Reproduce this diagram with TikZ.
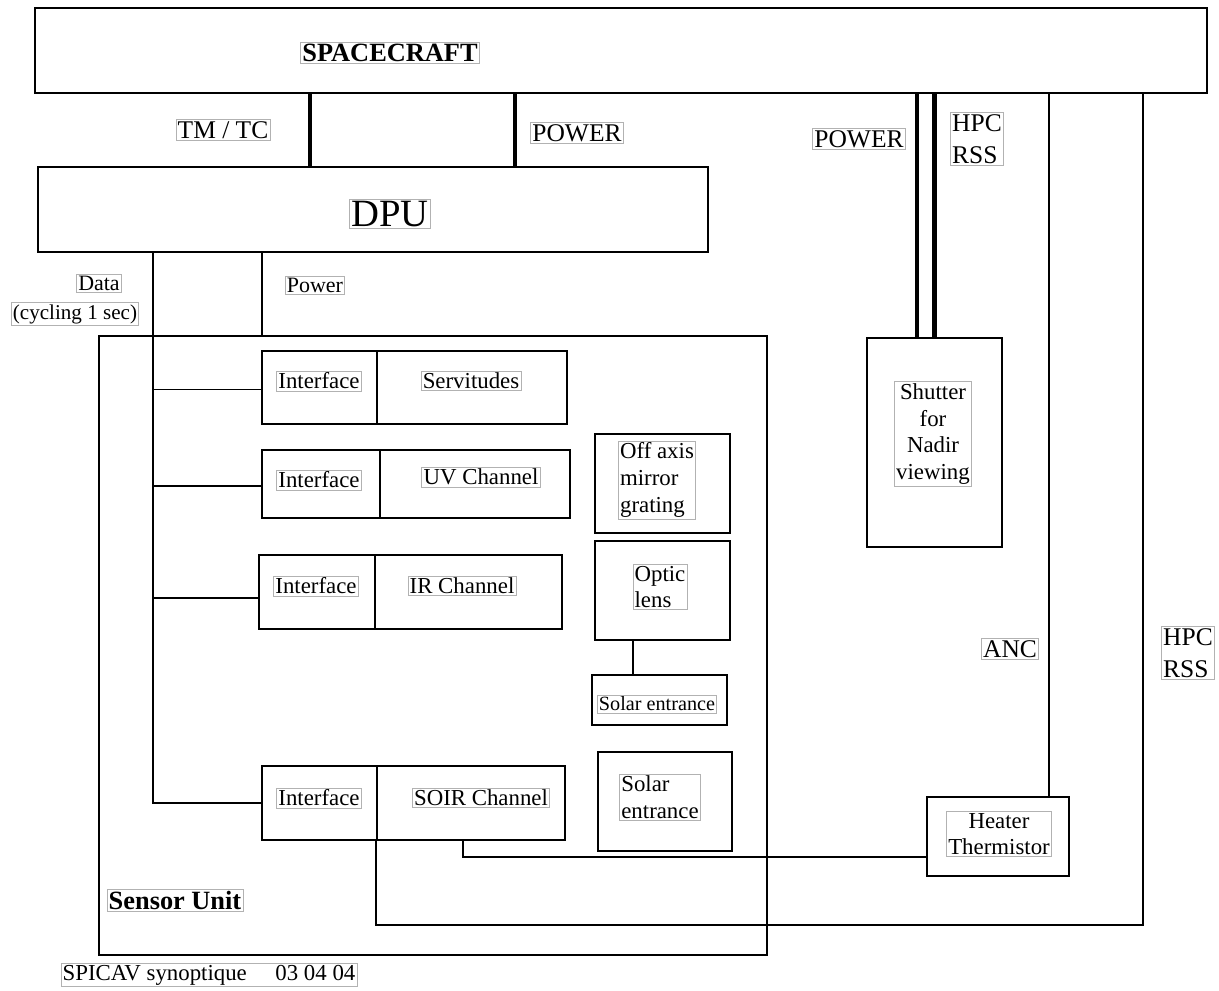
\documentclass[tikz,border=0pt]{standalone}
\usepackage{fontspec}
\setmainfont{Liberation Serif}
\usetikzlibrary{positioning}

\begin{document}
\begin{tikzpicture}[x=0.02cm, y=-0.02cm,
    box/.style={draw, line width=1.1pt, inner sep=0pt},
    tag/.style={draw=black!30, line width=0.4pt, inner sep=1pt, align=center, font=\fontsize{13}{15.2}\selectfont},
    big/.style={tag, font=\fontsize{14.5}{18.5}\selectfont},
    wire/.style={line width=1.1pt},
    bus/.style={line width=2.4pt}]
    \useasboundingbox (0,0) rectangle (1219,990);

    % upper blocks
    \node[box, minimum width=23.44cm, minimum height=1.7cm] (sc) at (621,50.5) {};
    \node[box, minimum width=13.4cm, minimum height=1.7cm] (dpu) at (373,209.5) {};
    \node[tag, font=\bfseries\fontsize{15}{18}\selectfont] (scname) at (390,53) {SPACECRAFT};
    \node[tag, font=\fontsize{22}{26}\selectfont] (dpuname) at (390,214) {DPU};
    \node[big] (tmtc) at (223,130) {TM / TC};
    \node[big] (pwr) at (577,133) {POWER};

    % sensor unit
    \node[box, minimum width=13.36cm, minimum height=12.38cm] (su) at (433,645.5) {};
    \node[tag, font=\bfseries\fontsize{15}{18}\selectfont] (suname) at (175,900) {Sensor Unit};
    \node[tag, font=\fontsize{12.5}{15}\selectfont] (data) at (99,283) {Data};
    \node[tag, font=\fontsize{12}{14}\selectfont] (cyc) at (75,314) {(cycling 1 sec)};
    \node[tag, font=\fontsize{12.5}{15}\selectfont] (power) at (315,285) {Power};

    \node[box, minimum width=2.30cm, minimum height=1.46cm] (if1) at (319.5,387.5) {};
    \node[box, minimum width=3.80cm, minimum height=1.46cm] (ch1) at (472,387.5) {};
    \node[box, minimum width=2.36cm, minimum height=1.36cm] (if2) at (321,484) {};
    \node[box, minimum width=3.80cm, minimum height=1.36cm] (ch2) at (475,484) {};
    \node[box, minimum width=2.32cm, minimum height=1.48cm] (if3) at (317,592) {};
    \node[box, minimum width=3.74cm, minimum height=1.48cm] (ch3) at (468.5,592) {};
    \node[box, minimum width=2.30cm, minimum height=1.48cm] (if4) at (319.5,803) {};
    \node[box, minimum width=3.76cm, minimum height=1.48cm] (ch4) at (471,803) {};
    \node[tag] (iftxt1) at (319,381) {Interface};
    \node[tag] (chtxt1) at (471,381) {Servitudes};
    \node[tag] (iftxt2) at (319,480) {Interface};
    \node[tag] (chtxt2) at (481,477) {UV Channel};
    \node[tag] (iftxt3) at (316,586) {Interface};
    \node[tag] (chtxt3) at (462,586) {IR Channel};
    \node[tag] (iftxt4) at (319,798) {Interface};
    \node[tag] (chtxt4) at (481,798) {SOIR Channel};

    \node[box, minimum width=2.70cm, minimum height=1.98cm] (mirror) at (662.5,483.5) {};
    \node[box, minimum width=2.70cm, minimum height=1.98cm] (lens) at (662.5,590.5) {};
    \node[box, minimum width=2.70cm, minimum height=1.00cm] (solsm) at (659.5,700) {};
    \node[box, minimum width=2.68cm, minimum height=1.98cm] (solbig) at (665,801.5) {};
    \node[tag, align=left] (mirrortxt) at (657,480) {Off axis\\mirror\\grating};
    \node[tag, align=left] (lenstxt) at (660,587) {Optic\\lens};
    \node[tag, font=\fontsize{11.5}{14}\selectfont] (solsmtxt) at (657,704) {Solar entrance};
    \node[tag, align=left] (solbigtxt) at (660,797) {Solar\\entrance};

    % outside the sensor unit
    \node[box, minimum width=2.70cm, minimum height=4.18cm] (shutter) at (934.5,442.5) {};
    \node[tag] (shuttertxt) at (933,434) {Shutter\\for\\Nadir\\viewing};
    \node[box, minimum width=2.84cm, minimum height=1.58cm] (heater) at (998,836.5) {};
    \node[tag, font=\fontsize{13}{14.8}\selectfont] (heatertxt) at (999,834) {Heater\\Thermistor};
    \node[big] (pwr2) at (859,139) {POWER};
    \node[big, align=left] (hpc1) at (977,139) {HPC\\RSS};
    \node[big] (anc) at (1010,649) {ANC};
    \node[big, align=left] (hpc2) at (1188,653) {HPC\\RSS};

    \node[tag, font=\fontsize{13}{15}\selectfont] (title) at (209,975) {SPICAV synoptique\quad\ 03 04 04};

    % buses
    \coordinate (tmx) at (310,0);
    \coordinate (pwx) at (515,0);
    \coordinate (shx) at (917,0);
    \draw[bus] (sc.south -| tmx) -- (dpu.north -| tmx);
    \draw[bus] (sc.south -| pwx) -- (dpu.north -| pwx);
    \draw[bus] (sc.south -| shx) -- (shutter.north -| shx);
    \draw[bus] (sc.south -| shutter.north) -- (shutter.north);

    % wires
    \coordinate (dx) at (153,0);
    \coordinate (px) at (262,0);
    \coordinate (thx) at (463,857);
    \coordinate (hpcx) at (1143,925);
    \coordinate (ancx) at (1049,0);
    \draw[wire] (dpu.south -| dx) |- (if4.west);
    \draw[wire] ([yshift=-0.04cm]if1.west) -- ([yshift=-0.04cm]if1.west -| dx);
    \draw[wire] ([yshift=-0.04cm]if2.west) -- ([yshift=-0.04cm]if2.west -| dx);
    \draw[wire] ([yshift=-0.12cm]if3.west) -- ([yshift=-0.12cm]if3.west -| dx);
    \draw[wire] (dpu.south -| px) -- (su.north -| px);
    \draw[wire] (lens.south -| 633,0) -- (solsm.north -| 633,0);
    \draw[wire] (ch4.south -| thx) |- (heater.west |- thx);
    \draw[wire] (ch4.south west) |- (hpcx) -- (sc.south -| hpcx);
    \draw[wire] (sc.south -| ancx) -- (heater.north -| ancx);
\end{tikzpicture}
\end{document}
